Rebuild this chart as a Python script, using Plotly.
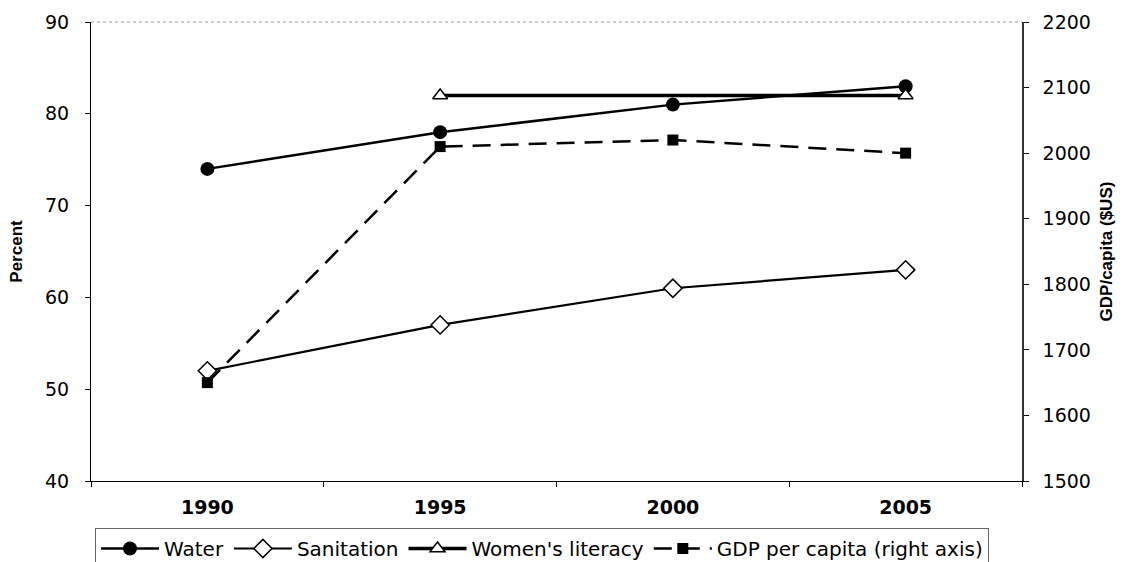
import plotly.graph_objects as go

years = ["1990", "1995", "2000", "2005"]
water = [74, 78, 81, 83]
sanitation = [52, 57, 61, 63]
literacy = [None, 82, None, 82]
gdp = [1650, 2010, 2020, 2000]

left_range = [40, 90]
right_range = [1500, 2200]

FONT = "DejaVu Sans"
TFONT = "Liberation Sans"
fig = go.Figure()

fig.add_trace(go.Scatter(
    x=years, y=water, name="Water", mode="lines+markers",
    line=dict(color="black", width=2.5),
    marker=dict(symbol="circle", size=14, color="black"),
))
fig.add_trace(go.Scatter(
    x=years, y=sanitation, name="Sanitation", mode="lines+markers",
    line=dict(color="black", width=2.2),
    marker=dict(symbol="diamond", size=14, color="white", line=dict(color="black", width=1.5)),
))
fig.add_trace(go.Scatter(
    x=years, y=literacy, name="Women's literacy", mode="lines+markers", connectgaps=True,
    line=dict(color="black", width=3.5),
    marker=dict(symbol="triangle-up", size=13, color="white", line=dict(color="black", width=1.5)),
))
fig.add_trace(go.Scatter(
    x=years, y=gdp, name="GDP per capita (right axis)", mode="lines+markers", yaxis="y2",
    line=dict(color="black", width=2.5, dash="18px,10px"),
    marker=dict(symbol="square", size=11, color="black"),
))

n = len(years)
fig.update_layout(
    width=1126, height=562,
    margin=dict(l=91, r=104, t=22, b=81, autoexpand=False),
    paper_bgcolor="white", plot_bgcolor="white",
    font=dict(family=FONT, size=19, color="black"),
    showlegend=True,
    legend=dict(
        orientation="h", xref="container", yref="container",
        x=95 / 1126, y=1 - 528 / 562, xanchor="left", yanchor="top",
        bordercolor="#666666", borderwidth=1, font=dict(family=FONT, size=20),
        itemwidth=58,
    ),
    xaxis=dict(
        type="category", range=[-0.5, n - 0.5], tickson="boundaries", automargin=False,
        showline=True, linecolor="black", linewidth=1,
        ticks="outside", ticklen=5, tickcolor="black",
        showgrid=False, zeroline=False,
        tickfont=dict(family=FONT, size=19, color="black", weight="bold"),
        ticklabelstandoff=9,
    ),
    xaxis2=dict(
        overlaying="x", range=[-0.5, n - 0.5], tickvals=[i + 0.5 for i in range(n - 1)],
        ticks="inside", ticklen=4, tickcolor="black", showticklabels=False,
        showline=False, showgrid=False, zeroline=False, side="bottom",
    ),
    yaxis=dict(
        range=left_range, dtick=10, showline=True, linecolor="black", linewidth=1, automargin=False,
        ticks="outside", ticklen=5, tickcolor="black", showgrid=False, zeroline=False,
        tickfont=dict(family=FONT, size=19, color="black"),
        ticklabelstandoff=12,
        title=dict(text="Percent", font=dict(family=TFONT, size=17, color="black", weight="bold"), standoff=18),
    ),
    yaxis3=dict(
        overlaying="y", range=left_range, dtick=10, side="left",
        ticks="inside", ticklen=4, tickcolor="black", showticklabels=False,
        showline=False, showgrid=False, zeroline=False,
    ),
    yaxis2=dict(
        overlaying="y", side="right", range=right_range, dtick=100, automargin=False,
        showline=True, linecolor="#333333", linewidth=1.5,
        ticks="outside", ticklen=5, tickcolor="black", showgrid=False, zeroline=False,
        tickfont=dict(family=FONT, size=19, color="black"),
        ticklabelstandoff=10,
        title=dict(text="GDP/capita ($US)", font=dict(family=TFONT, size=17, color="black", weight="bold"), standoff=10),
    ),
    yaxis4=dict(
        overlaying="y", side="right", range=right_range, dtick=100,
        ticks="inside", ticklen=4, tickcolor="black", showticklabels=False,
        showline=False, showgrid=False, zeroline=False,
    ),
    shapes=[dict(type="line", xref="paper", yref="paper", x0=0, x1=1, y0=1, y1=1,
                 line=dict(color="#999999", width=1, dash="dot"))],
)

fig.write_html("out.html")
